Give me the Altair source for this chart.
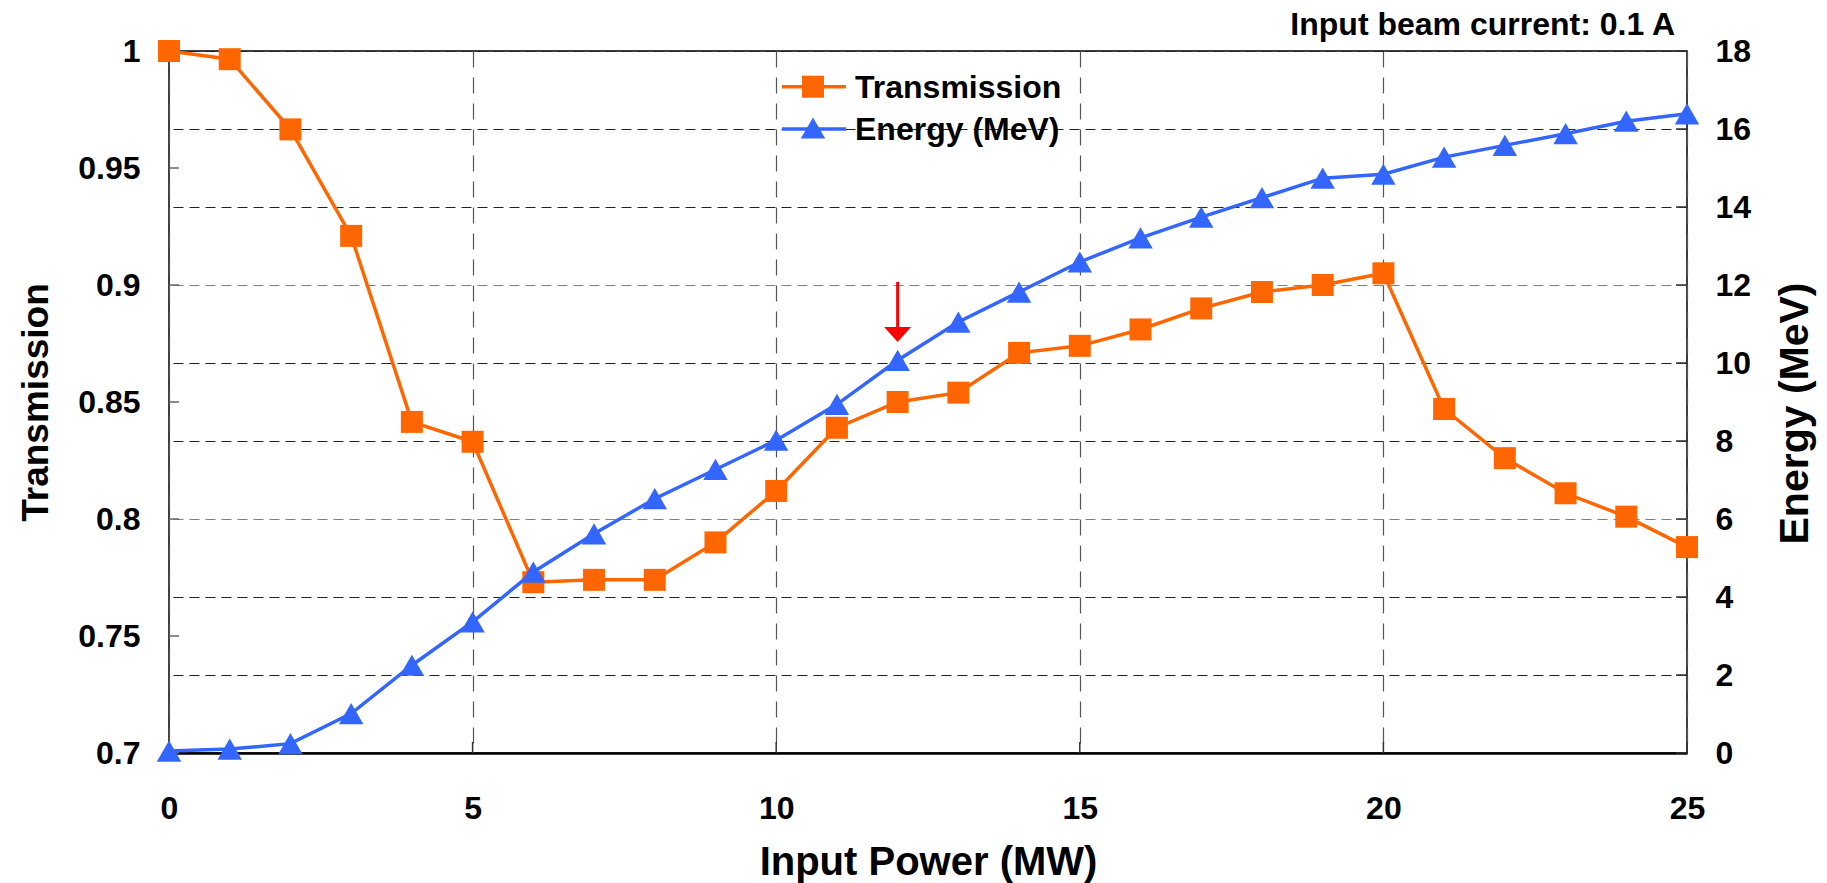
import altair as alt
import pandas as pd

# ---- data ----
power = list(range(26))
transmission = [1.000, 0.9965, 0.9665, 0.921, 0.8415, 0.833, 0.773, 0.774, 0.774, 0.790,
                0.812, 0.839, 0.850, 0.854, 0.871, 0.874, 0.881, 0.890, 0.897, 0.900,
                0.905, 0.847, 0.826, 0.811, 0.801, 0.788]
energy = [0.05, 0.10, 0.24, 1.01, 2.25, 3.36, 4.64, 5.62, 6.52, 7.27,
          8.02, 8.94, 10.07, 11.05, 11.82, 12.59, 13.21, 13.74, 14.24, 14.74,
          14.84, 15.28, 15.58, 15.88, 16.20, 16.39]

x_ticks = [0, 5, 10, 15, 20, 25]
left_ticks = [0.7, 0.75, 0.8, 0.85, 0.9, 0.95, 1.0]
right_ticks = [0, 2, 4, 6, 8, 10, 12, 14, 16, 18]

arrow_power = [12]
arrow_start = [12.08]
arrow_end = [10.9]
arrow_head = [10.73]

series_names = ["Transmission", "Energy (MeV)"]
note_text = "Input beam current: 0.1 A"

# ---- tables ----
df = pd.DataFrame({"power": power, "trans": transmission, "energy": energy})
df_xt = pd.DataFrame({"power": x_ticks})
df_lt = pd.DataFrame({"trans": left_ticks})
df_rt = pd.DataFrame({"energy": right_ticks})
df_arrow = pd.DataFrame({"power": arrow_power, "energy": arrow_start,
                         "energy_end": arrow_end, "head": arrow_head})

W, H = 1518, 702
FONT = "Liberation Sans"
ORANGE = "#FF6600"
BLUE = "#3366FF"

x_enc = alt.X(
    "power:Q",
    scale=alt.Scale(domain=[0, 25], nice=False, zero=False),
    axis=alt.Axis(
        values=x_ticks, format="d", grid=True, gridDash=[16, 10], gridColor="#555555",
        gridWidth=1.2, ticks=False, tickSize=0, domain=True, domainColor="#000000",
        domainWidth=2.5, labelFontSize=32, labelPadding=40, labelFlush=False,
        labelOverlap=False,
        title="Input Power (MW)", titleFontSize=40, titleX=759, titleY=121,
        titleAlign="center", titleBaseline="alphabetic", titleAngle=0,
    ),
)

y_left = alt.Y(
    "trans:Q",
    scale=alt.Scale(domain=[0.7, 1.0], nice=False, zero=False),
    axis=alt.Axis(
        values=left_ticks, format="~g", grid=False, ticks=False, tickSize=0, domain=False,
        labelFontSize=32, labelPadding=29, orient="left", labelFlush=False,
        labelOverlap=False,
        title="Transmission", titleFontSize=37, titleAngle=270, titleX=-122, titleY=351,
        titleAlign="center", titleBaseline="alphabetic",
    ),
)

y_right = alt.Y(
    "energy:Q",
    scale=alt.Scale(domain=[0, 18], nice=False, zero=False),
    axis=alt.Axis(
        values=right_ticks, format="d", grid=True, gridDash=[10, 6],
        gridColor={"condition": {"test": "datum.value == 6 || datum.value == 12",
                                 "value": "#808080"},
                   "value": "#222222"},
        gridWidth=1.2, ticks=False, tickSize=0, domain=False, orient="right",
        labelFontSize=32, labelPadding=28, labelFlush=False, labelOverlap=False,
        title="Energy (MeV)", titleFontSize=41, titleAngle=270, titleX=120, titleY=362,
        titleAlign="center", titleBaseline="alphabetic",
    ),
)

# ---- left (transmission) group ----
t_line = alt.Chart(df).mark_line(color=ORANGE, strokeWidth=3.5).encode(x=x_enc, y=y_left)
t_pts = alt.Chart(df).mark_point(shape="square", filled=True, size=484, color=ORANGE,
                                 opacity=1).encode(x=x_enc, y=y_left)
l_ticks = alt.Chart(df_lt).mark_rule(color="#666666", strokeWidth=1.5).encode(
    y=y_left, x=alt.value(0), x2=alt.value(10))
b_ticks = alt.Chart(df_xt).mark_rule(color="#333333", strokeWidth=1.5).encode(
    x=x_enc, y=alt.value(H - 11), y2=alt.value(H))
left_group = alt.layer(l_ticks, b_ticks, t_line, t_pts)

# ---- right (energy) group ----
e_line = alt.Chart(df).mark_line(color=BLUE, strokeWidth=3.5).encode(x=x_enc, y=y_right)
e_pts = alt.Chart(df).mark_point(shape="triangle-up", filled=True, size=600, color=BLUE,
                                 opacity=1).encode(x=x_enc, y=y_right)
r_ticks = alt.Chart(df_rt).mark_rule(color="#333333", strokeWidth=1.5).encode(
    y=y_right, x=alt.value(W - 11), x2=alt.value(W))
arrow_shaft = alt.Chart(df_arrow).mark_rule(color="#FF0000", strokeWidth=3).encode(
    x=x_enc, y=y_right, y2="energy_end:Q")
arrow_tip = alt.Chart(df_arrow).mark_point(
    shape="M-1,-0.55L1,-0.55L0,0.55Z", filled=True, size=729, color="#FF0000", opacity=1
).encode(x=x_enc, y=alt.Y("head:Q", scale=alt.Scale(domain=[0, 18], nice=False, zero=False)))
right_group = alt.layer(r_ticks, e_line, e_pts, arrow_shaft, arrow_tip)

# ---- legend and note (annotation text) ----
leg1 = pd.DataFrame({"name": [series_names[0]]})
leg2 = pd.DataFrame({"name": [series_names[1]]})

lg_line1 = alt.Chart(leg1).mark_rule(color=ORANGE, strokeWidth=3.5).encode(
    x=alt.value(613), x2=alt.value(677), y=alt.value(35.7))
lg_pt1 = alt.Chart(leg1).mark_point(shape="square", filled=True, size=484, color=ORANGE,
                                    opacity=1).encode(x=alt.value(644), y=alt.value(35.7))
lg_txt1 = alt.Chart(leg1).mark_text(align="left", baseline="alphabetic", font=FONT,
                                    fontSize=32, fontWeight="bold", color="black").encode(
    x=alt.value(686), y=alt.value(46.5), text="name:N")
lg_line2 = alt.Chart(leg2).mark_rule(color=BLUE, strokeWidth=3.5).encode(
    x=alt.value(613), x2=alt.value(677), y=alt.value(78))
lg_pt2 = alt.Chart(leg2).mark_point(shape="triangle-up", filled=True, size=600, color=BLUE,
                                    opacity=1).encode(x=alt.value(644), y=alt.value(77))
lg_txt2 = alt.Chart(leg2).mark_text(align="left", baseline="alphabetic", font=FONT,
                                    fontSize=32, fontWeight="bold", color="black").encode(
    x=alt.value(686), y=alt.value(89), text="name:N")

note = alt.Chart(pd.DataFrame({"t": [note_text]})).mark_text(
    align="right", baseline="alphabetic", font=FONT, fontSize=32, fontWeight="bold",
    color="black").encode(x=alt.value(1506), y=alt.value(-16), text="t:N")

annot = alt.layer(lg_line1, lg_pt1, lg_txt1, lg_line2, lg_pt2, lg_txt2, note)

chart = (
    alt.layer(left_group, right_group, annot)
    .resolve_scale(y="independent")
    .properties(
        width=W, height=H,
        autosize=alt.AutoSizeParams(type="none"),
        padding={"left": 169, "top": 51, "right": 140, "bottom": 130},
        background="white",
    )
    .configure_view(stroke="#000000", strokeWidth=1.5)
    .configure_axis(labelFont=FONT, titleFont=FONT, labelFontWeight="bold",
                    titleFontWeight="bold", labelColor="black", titleColor="black")
)

chart.save("out.html", embed_options={"renderer": "svg", "actions": False})
